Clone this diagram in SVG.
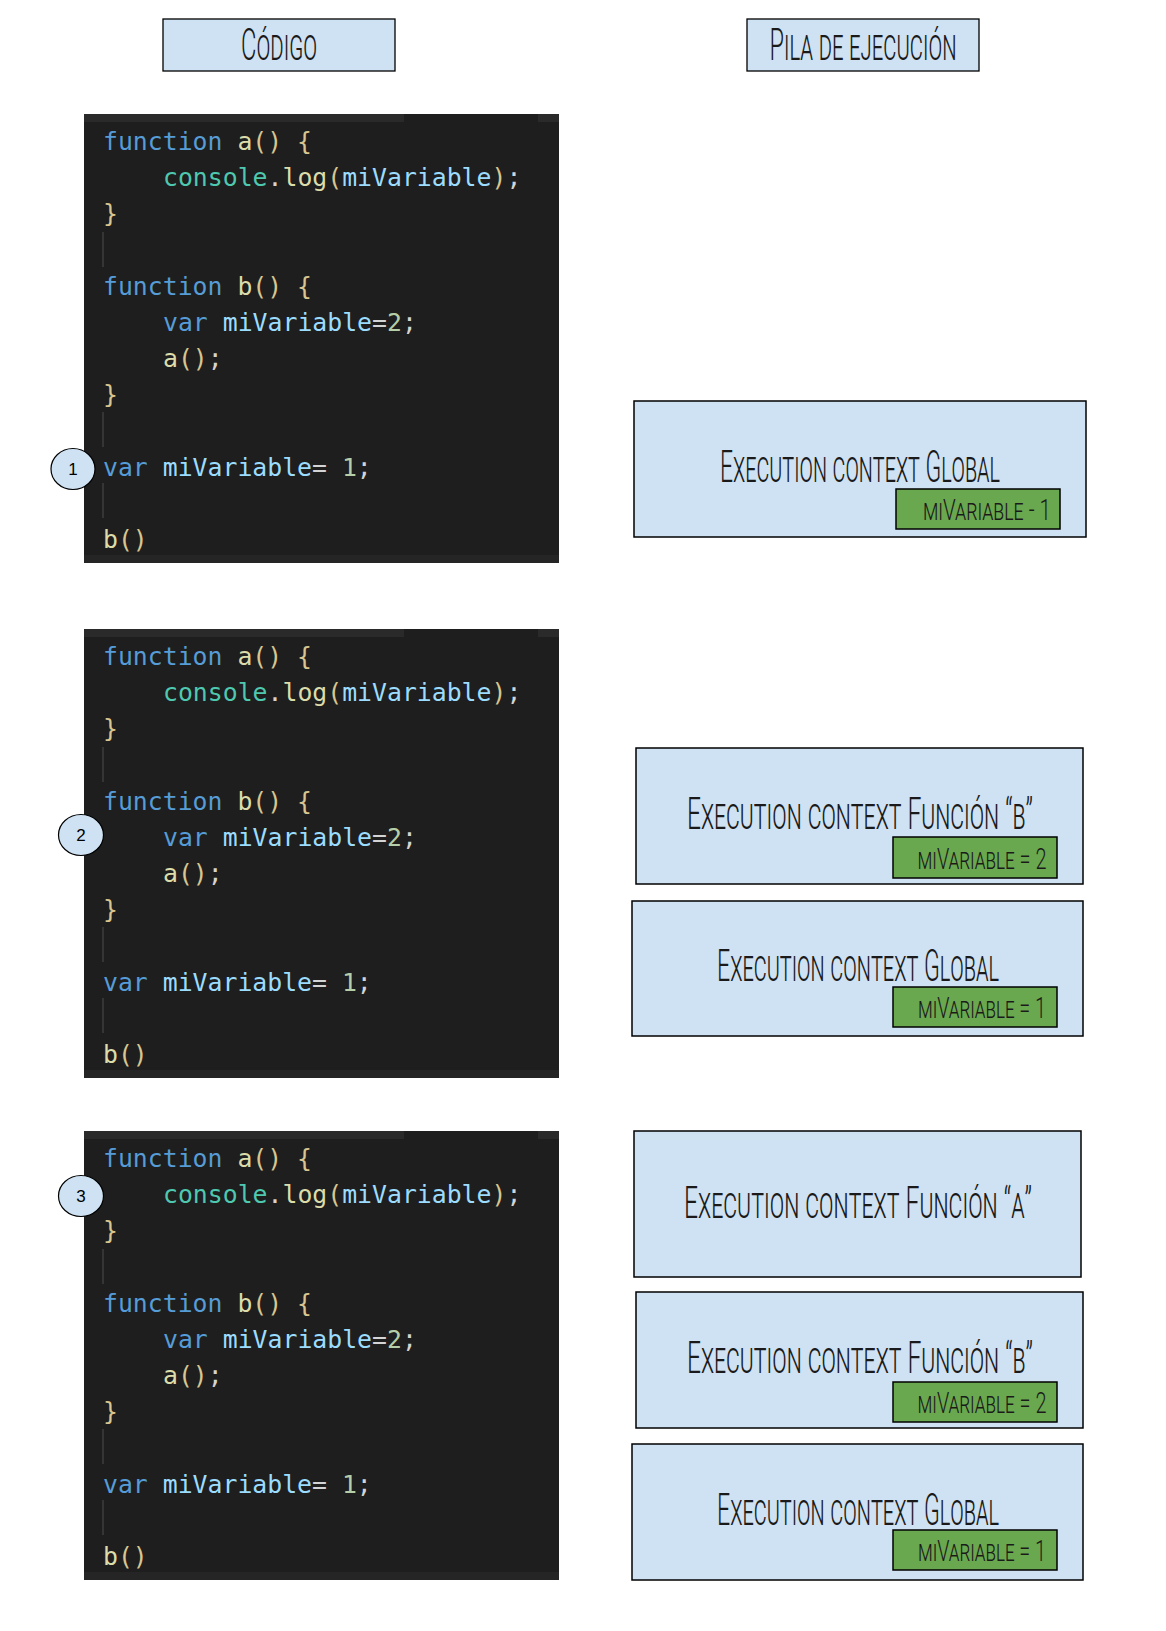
<svg xmlns="http://www.w3.org/2000/svg" width="1166" height="1631" viewBox="0 0 1166 1631">
<style>
.hdr{fill:#cfe2f3;stroke:#000;stroke-width:1.3}
.ctx{fill:#cfe2f3;stroke:#000;stroke-width:1.5}
.var{fill:#6aa84f;stroke:#000;stroke-width:1.5}
.ttl{font-family:"Roboto","DejaVu Sans",sans-serif;font-weight:300;font-variant:small-caps;fill:#1a1a1a}
.big{font-size:44px}
.sm{font-size:30px}
.panel{fill:#1e1e1e}
.tab{fill:#2a2a2a}
.guide{stroke:#3e3e3e;stroke-width:1.5}
.code{font-family:"DejaVu Sans Mono","Liberation Mono",monospace;font-size:24.8px;fill:#d4d4d4}
.k{fill:#569cd6}.f{fill:#dcdcaa}.p{fill:#d8c58f}.c{fill:#4ec9b0}.v{fill:#9cdcfe}.n{fill:#b5cea8}
.step{fill:#cfe2f3;stroke:#000;stroke-width:1.2}
.num{font-family:"Liberation Sans",Arial,sans-serif;font-size:17px;fill:#000;text-anchor:middle}
</style>

<g id="header-codigo">
<rect class="hdr" x="163" y="19" width="232" height="52"/>
<text class="ttl big" x="279" y="60" text-anchor="middle" textLength="76" lengthAdjust="spacingAndGlyphs">Código</text>
</g>
<g id="header-pila">
<rect class="hdr" x="747" y="19" width="232" height="52"/>
<text class="ttl big" x="863" y="60" text-anchor="middle" textLength="187" lengthAdjust="spacingAndGlyphs">Pila de ejecución</text>
</g>

<g id="code-1">
<rect class="panel" x="84" y="114" width="475" height="449"/>
<rect class="tab" x="84" y="114" width="320" height="8"/>
<rect class="tab" x="538" y="114" width="21" height="8"/>
<rect fill="#252525" x="84" y="555" width="475" height="8"/>
<line class="guide" x1="103" y1="232" x2="103" y2="267"/>
<line class="guide" x1="103" y1="412" x2="103" y2="447"/>
<line class="guide" x1="103" y1="483" x2="103" y2="518"/>
<text class="code" x="103" y="150"><tspan class="k">function</tspan> <tspan class="f">a</tspan><tspan class="p">() {</tspan></text>
<text class="code" x="163" y="186.2"><tspan class="c">console</tspan>.<tspan class="f">log</tspan><tspan class="p">(</tspan><tspan class="v">miVariable</tspan><tspan class="p">)</tspan>;</text>
<text class="code p" x="103" y="222.4">}</text>
<text class="code" x="103" y="294.8"><tspan class="k">function</tspan> <tspan class="f">b</tspan><tspan class="p">() {</tspan></text>
<text class="code" x="163" y="331"><tspan class="k">var</tspan> <tspan class="v">miVariable</tspan>=<tspan class="n">2</tspan>;</text>
<text class="code" x="163" y="367.2"><tspan class="f">a</tspan><tspan class="p">()</tspan>;</text>
<text class="code p" x="103" y="403.4">}</text>
<text class="code" x="103" y="475.8"><tspan class="k">var</tspan> <tspan class="v">miVariable</tspan>= <tspan class="n">1</tspan>;</text>
<text class="code" x="103" y="548.2"><tspan class="f">b</tspan><tspan class="p">()</tspan></text>
</g>

<g id="code-2">
<rect class="panel" x="84" y="629" width="475" height="449"/>
<rect class="tab" x="84" y="629" width="320" height="8"/>
<rect class="tab" x="538" y="629" width="21" height="8"/>
<rect fill="#252525" x="84" y="1070" width="475" height="8"/>
<line class="guide" x1="103" y1="747" x2="103" y2="782"/>
<line class="guide" x1="103" y1="927" x2="103" y2="962"/>
<line class="guide" x1="103" y1="998" x2="103" y2="1033"/>
<text class="code" x="103" y="665"><tspan class="k">function</tspan> <tspan class="f">a</tspan><tspan class="p">() {</tspan></text>
<text class="code" x="163" y="701.2"><tspan class="c">console</tspan>.<tspan class="f">log</tspan><tspan class="p">(</tspan><tspan class="v">miVariable</tspan><tspan class="p">)</tspan>;</text>
<text class="code p" x="103" y="737.4">}</text>
<text class="code" x="103" y="809.8"><tspan class="k">function</tspan> <tspan class="f">b</tspan><tspan class="p">() {</tspan></text>
<text class="code" x="163" y="846"><tspan class="k">var</tspan> <tspan class="v">miVariable</tspan>=<tspan class="n">2</tspan>;</text>
<text class="code" x="163" y="882.2"><tspan class="f">a</tspan><tspan class="p">()</tspan>;</text>
<text class="code p" x="103" y="918.4">}</text>
<text class="code" x="103" y="990.8"><tspan class="k">var</tspan> <tspan class="v">miVariable</tspan>= <tspan class="n">1</tspan>;</text>
<text class="code" x="103" y="1063.2"><tspan class="f">b</tspan><tspan class="p">()</tspan></text>
</g>

<g id="code-3">
<rect class="panel" x="84" y="1131" width="475" height="449"/>
<rect class="tab" x="84" y="1131" width="320" height="8"/>
<rect class="tab" x="538" y="1131" width="21" height="8"/>
<rect fill="#252525" x="84" y="1572" width="475" height="8"/>
<line class="guide" x1="103" y1="1249" x2="103" y2="1284"/>
<line class="guide" x1="103" y1="1429" x2="103" y2="1464"/>
<line class="guide" x1="103" y1="1500" x2="103" y2="1535"/>
<text class="code" x="103" y="1167"><tspan class="k">function</tspan> <tspan class="f">a</tspan><tspan class="p">() {</tspan></text>
<text class="code" x="163" y="1203.2"><tspan class="c">console</tspan>.<tspan class="f">log</tspan><tspan class="p">(</tspan><tspan class="v">miVariable</tspan><tspan class="p">)</tspan>;</text>
<text class="code p" x="103" y="1239.4">}</text>
<text class="code" x="103" y="1311.8"><tspan class="k">function</tspan> <tspan class="f">b</tspan><tspan class="p">() {</tspan></text>
<text class="code" x="163" y="1348"><tspan class="k">var</tspan> <tspan class="v">miVariable</tspan>=<tspan class="n">2</tspan>;</text>
<text class="code" x="163" y="1384.2"><tspan class="f">a</tspan><tspan class="p">()</tspan>;</text>
<text class="code p" x="103" y="1420.4">}</text>
<text class="code" x="103" y="1492.8"><tspan class="k">var</tspan> <tspan class="v">miVariable</tspan>= <tspan class="n">1</tspan>;</text>
<text class="code" x="103" y="1565.2"><tspan class="f">b</tspan><tspan class="p">()</tspan></text>
</g>

<g id="step-1">
<ellipse class="step" cx="73" cy="469" rx="22" ry="20.5"/>
<text class="num" x="73" y="475">1</text>
</g>
<g id="step-2">
<ellipse class="step" cx="81" cy="835" rx="22.5" ry="20.5"/>
<text class="num" x="81" y="841">2</text>
</g>
<g id="step-3">
<ellipse class="step" cx="81" cy="1196" rx="22.5" ry="20.5"/>
<text class="num" x="81" y="1202">3</text>
</g>

<g id="ctx-global-1">
<rect class="ctx" x="634" y="401" width="452" height="136"/>
<rect class="var" x="896" y="489" width="164" height="40"/>
<text class="ttl big" x="860" y="482" text-anchor="middle" textLength="280" lengthAdjust="spacingAndGlyphs">Execution context Global</text>
<text class="ttl sm" x="987" y="520" text-anchor="middle" textLength="128" lengthAdjust="spacingAndGlyphs">miVariable - 1</text>
</g>

<g id="ctx-b-2">
<rect class="ctx" x="636" y="748" width="447" height="136"/>
<rect class="var" x="893" y="837" width="164" height="41"/>
<text class="ttl big" x="860" y="829" text-anchor="middle" textLength="346" lengthAdjust="spacingAndGlyphs">Execution context Función “b”</text>
<text class="ttl sm" x="982" y="869" text-anchor="middle" textLength="129" lengthAdjust="spacingAndGlyphs">miVariable = 2</text>
</g>
<g id="ctx-global-2">
<rect class="ctx" x="632" y="901" width="451" height="135"/>
<rect class="var" x="893" y="987" width="164" height="40"/>
<text class="ttl big" x="858" y="981" text-anchor="middle" textLength="282" lengthAdjust="spacingAndGlyphs">Execution context Global</text>
<text class="ttl sm" x="982" y="1018" text-anchor="middle" textLength="128" lengthAdjust="spacingAndGlyphs">miVariable = 1</text>
</g>

<g id="ctx-a-3">
<rect class="ctx" x="634" y="1131" width="447" height="146"/>
<text class="ttl big" x="858" y="1218" text-anchor="middle" textLength="348" lengthAdjust="spacingAndGlyphs">Execution context Función “a”</text>
</g>
<g id="ctx-b-3">
<rect class="ctx" x="636" y="1292" width="447" height="136"/>
<rect class="var" x="893" y="1382" width="164" height="40"/>
<text class="ttl big" x="860" y="1373" text-anchor="middle" textLength="346" lengthAdjust="spacingAndGlyphs">Execution context Función “b”</text>
<text class="ttl sm" x="982" y="1413" text-anchor="middle" textLength="129" lengthAdjust="spacingAndGlyphs">miVariable = 2</text>
</g>
<g id="ctx-global-3">
<rect class="ctx" x="632" y="1444" width="451" height="136"/>
<rect class="var" x="893" y="1530" width="164" height="40"/>
<text class="ttl big" x="858" y="1525" text-anchor="middle" textLength="282" lengthAdjust="spacingAndGlyphs">Execution context Global</text>
<text class="ttl sm" x="982" y="1561" text-anchor="middle" textLength="128" lengthAdjust="spacingAndGlyphs">miVariable = 1</text>
</g>

<g id="connectors"/>
</svg>
